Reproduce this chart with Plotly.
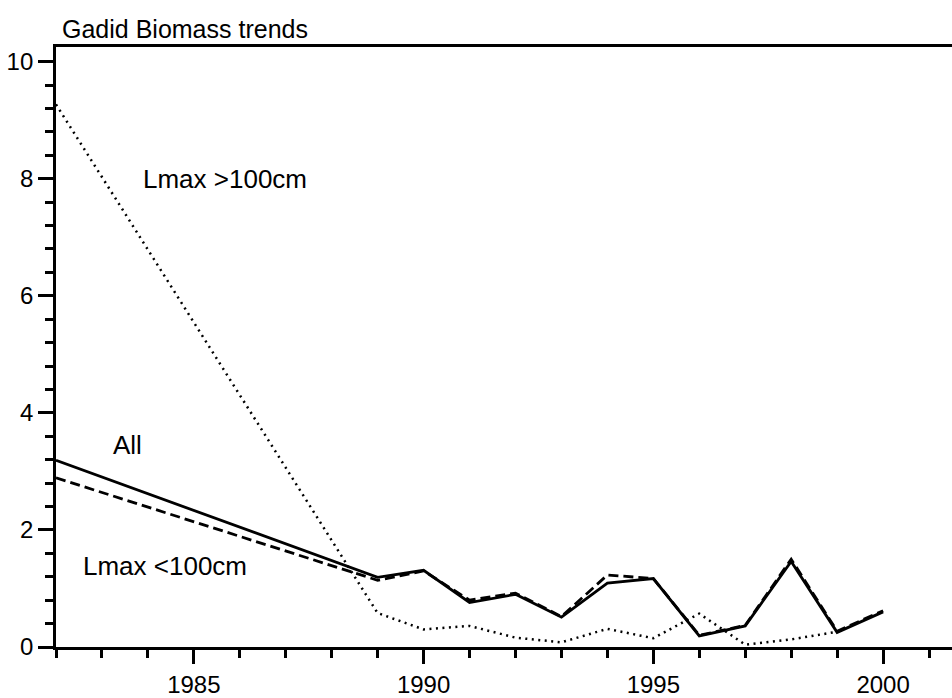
import plotly.graph_objects as go

# Biomass index by year
years = [1982, 1989, 1990, 1991, 1992, 1993, 1994, 1995, 1996, 1997, 1998, 1999, 2000]
all_gadids = [3.19, 1.19, 1.31, 0.76, 0.90, 0.51, 1.09, 1.17, 0.19, 0.36, 1.46, 0.25, 0.60]
lmax_lt100 = [2.89, 1.14, 1.30, 0.80, 0.92, 0.52, 1.23, 1.17, 0.20, 0.37, 1.50, 0.27, 0.62]
years_gt100 = [1982, 1989, 1990, 1991, 1992, 1993, 1994, 1995, 1996, 1997, 1998, 1999]
lmax_gt100 = [9.27, 0.58, 0.30, 0.36, 0.16, 0.08, 0.31, 0.15, 0.57, 0.04, 0.13, 0.26]

FONT = "Arial, Liberation Sans, sans-serif"

fig = go.Figure()
fig.add_trace(go.Scatter(x=years_gt100, y=lmax_gt100, mode="lines",
                         line=dict(color="black", width=2.5, dash="2px,4.5px"),
                         name="Lmax >100cm"))
fig.add_trace(go.Scatter(x=years, y=lmax_lt100, mode="lines",
                         line=dict(color="black", width=2.8, dash="10px,5px"),
                         name="Lmax <100cm"))
fig.add_trace(go.Scatter(x=years, y=all_gadids, mode="lines",
                         line=dict(color="black", width=2.8),
                         name="All"))

labels = [
    ("Lmax >100cm", 1983.85, 8.0),
    ("All", 1983.2, 3.45),
    ("Lmax <100cm", 1982.55, 1.38),
]
for text, x, y in labels:
    fig.add_annotation(x=x, y=y, text=text, showarrow=False, xanchor="left",
                       yanchor="middle", font=dict(family=FONT, size=26, color="black"))

fig.add_annotation(x=0.004, y=1.0, xref="paper", yref="paper", text="Gadid Biomass trends",
                   showarrow=False, xanchor="left", yanchor="bottom", yshift=2,
                   font=dict(family=FONT, size=25, color="black"))

fig.update_layout(
    width=952, height=698,
    margin=dict(l=56, r=0, t=47, b=48),
    plot_bgcolor="white", paper_bgcolor="white",
    showlegend=False,
    font=dict(family=FONT, size=24, color="black"),
    xaxis=dict(range=[1982, 2001.5], tickmode="linear", tick0=1985, dtick=5,
               ticks="outside", ticklen=14, tickwidth=2.8, tickcolor="black",
               showline=True, linewidth=2.8, linecolor="black", mirror=True,
               showgrid=False, zeroline=False,
               minor=dict(dtick=1, tick0=1982, ticks="outside", ticklen=8,
                          tickwidth=2.8, tickcolor="black", showgrid=False)),
    yaxis=dict(range=[0, 10.25], tickmode="linear", tick0=0, dtick=2,
               ticks="outside", ticklen=15, tickwidth=2.8, tickcolor="black",
               showline=True, linewidth=2.8, linecolor="black", mirror=False,
               showgrid=False, zeroline=False,
               minor=dict(dtick=0.4, tick0=0, ticks="outside", ticklen=8,
                          tickwidth=2.8, tickcolor="black", showgrid=False)),
)

fig.write_html("out.html")
